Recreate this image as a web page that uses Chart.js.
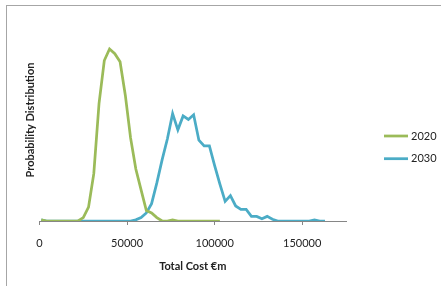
<!DOCTYPE html>
<html>
<head>
<meta charset="utf-8">
<script src="https://cdn.jsdelivr.net/npm/chart.js@4.4.1/dist/chart.umd.min.js"></script>
<style>
html, body { margin: 0; padding: 0; background: #fff; }
#wrap { position: relative; width: 441px; height: 286px; overflow: hidden; }
#frame { position: absolute; left: 6px; top: 5px; right: -2px; bottom: -2px; border-top: 1px solid #a6a6a6; border-left: 1px solid #a6a6a6; pointer-events: none; }
canvas { position: absolute; left: 0; top: 0; }
</style>
</head>
<body>
<div id="wrap">
  <canvas id="chartCost" width="441" height="286"></canvas>
  <div id="frame"></div>
</div>
<script>
// histogram bin positions (Total Cost, €m)
const costBins = [
    1000, 4000, 7000, 10000, 13000, 16000, 19000, 22000, 25000, 28000,
    31000, 34000, 37000, 40000, 43000, 46000, 49000, 52000, 55000, 58000,
    61000, 64000, 67000, 70000, 73000, 76000, 79000, 82000, 85000, 88000,
    91000, 94000, 97000, 100000, 103000, 106000, 109000, 112000, 115000, 118000,
    121000, 124000, 127000, 130000, 133000, 136000, 139000, 142000, 145000, 148000,
    151000, 154000, 157000, 160000, 163000
];

const prob2020 = [
    0.001, 0, 0, 0, 0, 0, 0, 0, 0.003, 0.012,
    0.041, 0.102, 0.139, 0.149, 0.145, 0.138, 0.109, 0.072, 0.045, 0.027,
    0.009, 0.007, 0.003, 0, 0, 0.001, 0, 0, 0, 0,
    0, 0, 0, 0, 0
];

const prob2030 = [
    0.001, 0, 0, 0, 0, 0, 0, 0, 0, 0,
    0, 0, 0, 0, 0, 0, 0, 0, 0.001, 0.003,
    0.007, 0.015, 0.033, 0.053, 0.071, 0.093, 0.079, 0.091, 0.088, 0.092,
    0.070, 0.065, 0.065, 0.048, 0.032, 0.017, 0.022, 0.013, 0.010, 0.010,
    0.004, 0.004, 0.002, 0.004, 0.0015, 0, 0, 0, 0, 0,
    0, 0, 0.001, 0, 0
];

const seriesLabels = ['2020', '2030'];
const seriesColors = ['#9BBB59', '#4BACC6'];
const xTicks = [0, 50000, 100000, 150000];

const toPoints = vals => vals.map((v, i) => ({ x: costBins[i], y: v }));

Chart.defaults.font.family = 'Lato';
Chart.defaults.color = '#222';

// legend drawn at the right, Excel style (short line + label)
const sideLegend = {
    id: 'sideLegend',
    afterDraw(chart) {
        const ctx = chart.ctx;
        chart.data.datasets.forEach((ds, i) => {
            const y = 136 + i * 22.7;
            ctx.save();
            ctx.strokeStyle = ds.borderColor;
            ctx.lineWidth = 2.75;
            ctx.beginPath();
            ctx.moveTo(384, y);
            ctx.lineTo(408, y);
            ctx.stroke();
            ctx.fillStyle = '#222';
            ctx.font = '11px Lato';
            ctx.textBaseline = 'middle';
            ctx.fillText(ds.label, 411, y);
            ctx.restore();
        });
    }
};

new Chart(document.getElementById('chartCost'), {
    type: 'line',
    data: {
        datasets: [{
            label: seriesLabels[0],
            data: toPoints(prob2020),
            borderColor: seriesColors[0],
            borderWidth: 2.75,
            pointRadius: 0,
            tension: 0,
        }, {
            label: seriesLabels[1],
            data: toPoints(prob2030),
            borderColor: seriesColors[1],
            borderWidth: 2.75,
            pointRadius: 0,
            tension: 0,
        }]
    },
    options: {
        responsive: false,
        animation: false,
        layout: { padding: { top: 19, right: 95, left: 0, bottom: 0 } },
        plugins: { legend: { display: false }, tooltip: { enabled: false } },
        scales: {
            x: {
                type: 'linear',
                min: 0,
                max: 175000,
                afterBuildTicks: s => { s.ticks = xTicks.map(v => ({ value: v })); },
                afterFit: s => { s.height = 65; },
                ticks: { padding: 12, font: { size: 11 }, maxRotation: 0, callback: v => String(v) },
                grid: { drawOnChartArea: false, tickLength: 4, color: '#868686' },
                border: { color: '#868686', width: 1 },
                title: {
                    display: true,
                    text: 'Total Cost €m',
                    font: { size: 11, weight: 'bold' },
                    padding: { top: 0, bottom: 13 }
                }
            },
            y: {
                min: 0,
                max: 0.175,
                afterFit: s => { s.width = 39.5; },
                ticks: { display: false },
                grid: { display: false },
                border: { display: false },
                title: {
                    display: true,
                    text: 'Probability Distribution',
                    font: { size: 11, weight: 'bold' },
                    padding: { top: 24, bottom: 0 }
                }
            }
        }
    },
    plugins: [sideLegend]
});
</script>
</body>
</html>
